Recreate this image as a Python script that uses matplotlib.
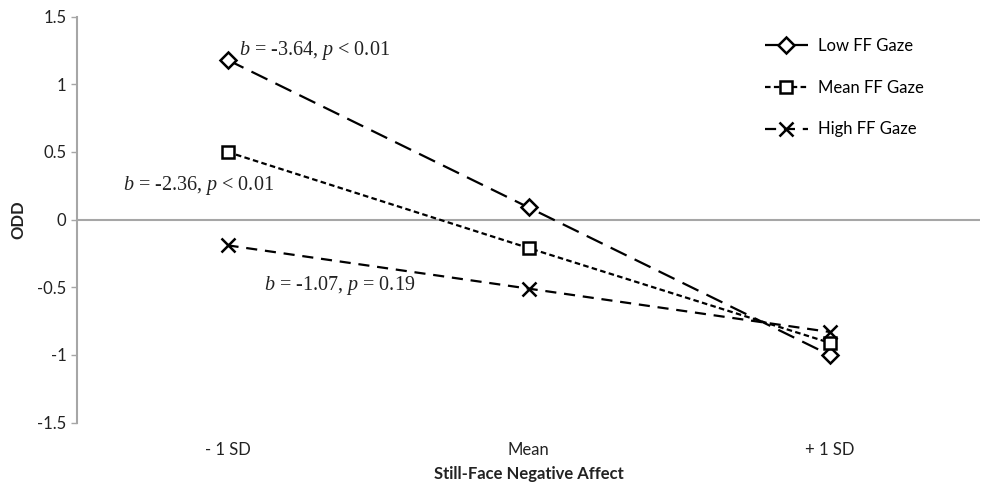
import matplotlib
matplotlib.use("Agg")
import matplotlib.pyplot as plt

# ===================== DATOS =====================
categorias = ["- 1 SD", "Mean", "+ 1 SD"]
low_ff = [1.18, 0.09, -1.00]
mean_ff = [0.50, -0.21, -0.91]
high_ff = [-0.19, -0.51, -0.83]
y_ticks = [-1.5, -1, -0.5, 0, 0.5, 1, 1.5]
y_tick_labels = ["-1.5", "-1", "-0.5", "0", "0.5", "1", "1.5"]

plt.rcParams['font.family'] = ['Lato', 'DejaVu Sans']
plt.rcParams['mathtext.fontset'] = 'custom'
plt.rcParams['mathtext.it'] = 'Liberation Serif:italic'
plt.rcParams['mathtext.rm'] = 'Liberation Serif'

fig = plt.figure(figsize=(9.87, 4.88), dpi=100)
ax = fig.add_axes([0.078, 0.134, 0.915, 0.832])

x = list(range(len(categorias)))
gris = '#a6a6a6'

ax.axhline(0, color=gris, lw=1.5, zorder=1)

estilo = dict(color='black', lw=1.6, markersize=9, markerfacecolor='white',
              markeredgecolor='black', markeredgewidth=1.8, zorder=3)
ax.plot(x, low_ff, linestyle=(0, (8, 4)), marker='D', label='Low FF Gaze',
        **{**estilo, 'markersize': 8})
ax.plot(x, mean_ff, linestyle=(0, (2.5, 1.5)), marker='s', label='Mean FF Gaze', **estilo)
ax.plot(x, high_ff, linestyle=(0, (5, 3.5)), marker='x', label='High FF Gaze',
        **{**estilo, 'markersize': 10})

ax.set_xlim(-0.5, 2.5)
ax.set_ylim(-1.5, 1.5)
ax.set_yticks(y_ticks)
ax.set_yticklabels(y_tick_labels)
ax.set_xticks(x)
ax.set_xticklabels(categorias)

for s in ['top', 'right', 'bottom']:
    ax.spines[s].set_visible(False)
ax.spines['left'].set_color(gris)
ax.spines['left'].set_linewidth(1.5)
ax.tick_params(axis='y', colors=gris, length=4, width=1, labelsize=12, labelcolor='#222222')
ax.tick_params(axis='x', length=0, pad=14, labelsize=12, labelcolor='#222222')

ax.set_ylabel("ODD", fontsize=12, fontweight='bold', color='#222222', labelpad=8)
ax.set_xlabel("Still-Face Negative Affect", fontsize=12, fontweight='bold', color='#222222', labelpad=6)

serif = dict(family='Liberation Serif', fontsize=14.5, color='#222222')
ax.text(0.037, 1.25, r"$b$ = -3.64, $p$ < 0.01", ha='left', va='center', **serif)
ax.text(-0.346, 0.25, r"$b$ = -2.36, $p$ < 0.01", ha='left', va='center', **serif)
ax.text(0.12, -0.49, r"$b$ = -1.07, $p$ = 0.19", ha='left', va='center', **serif)

ax.legend(loc='upper left', bbox_to_anchor=(0.745, 0.985), frameon=False, fontsize=12,
          handlelength=2.6, labelspacing=1.55, handletextpad=0.6)

fig.savefig("out.png", dpi=100, facecolor='white')
